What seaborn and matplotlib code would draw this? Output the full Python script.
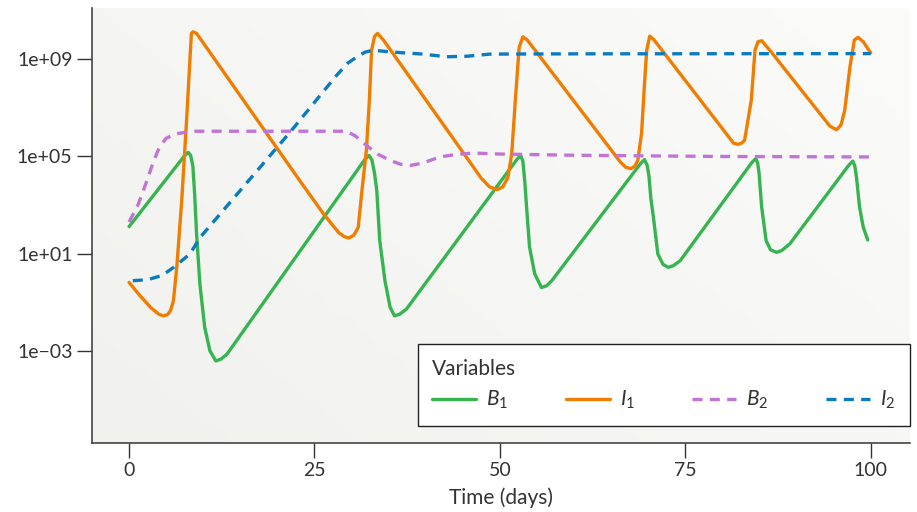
import numpy as np
import pandas as pd
import matplotlib
matplotlib.use('Agg')
import matplotlib.pyplot as plt
from matplotlib.colors import LinearSegmentedColormap
import seaborn as sns

# Values: time (days) and log10 of the population size
b1_t = [0, 7.4, 7.95, 8.3, 8.6, 8.85, 9.1, 9.55, 10.2, 10.9, 11.7, 12.4, 13.2,
        31.8, 32.35, 32.75, 33.1, 33.4, 33.8, 34.5, 35.2, 35.8, 36.5, 37.4,
        52.3, 52.8, 53.1, 53.35, 53.6, 54.0, 54.7, 55.6, 56.3, 57.0,
        69.0, 69.5, 69.85, 70.1, 70.35, 70.7, 71.3, 72.0, 72.7, 73.4, 74.3,
        84.0, 84.5, 84.75, 84.95, 85.3, 85.9, 86.5, 87.3, 88.0, 89.1,
        97.1, 97.6, 97.85, 98.1, 98.5, 99.0, 99.6]
b1_log = [2.11, 5.0, 5.17, 5.05, 4.6, 3.4, 1.81, -0.26, -2.05, -3.01, -3.43, -3.35, -3.15,
          4.88, 5.04, 4.85, 4.3, 3.6, 1.53, -0.12, -1.22, -1.57, -1.5, -1.29,
          4.88, 5.04, 4.8, 4.0, 2.91, 1.26, 0.16, -0.40, -0.33, -0.12,
          4.72, 4.87, 4.65, 4.2, 3.3, 2.5, 0.98, 0.55, 0.43, 0.5, 0.7,
          4.76, 4.91, 4.75, 4.3, 2.91, 1.53, 1.15, 1.05, 1.12, 1.4,
          4.66, 4.81, 4.62, 4.1, 2.91, 2.08, 1.56]

i1_t = [0, 1.5, 3.0, 4.0, 4.6, 5.2, 5.6, 5.98, 6.43, 7.1, 7.78, 8.2, 8.4, 8.63, 9.1, 9.57,
        23.0, 26.2, 28.3, 29.0, 29.6, 30.3, 30.9, 31.4, 32.0, 32.4, 32.7, 33.1, 33.5, 34.3,
        47.5, 48.6, 49.6, 50.4, 51.1, 51.6, 52.1, 52.6, 53.1, 53.7,
        66.3, 67.0, 67.7, 68.2, 68.6, 69.1, 69.5, 69.8, 70.2, 70.8,
        81.0, 81.5, 82.1, 82.6, 83.0, 83.9, 84.4, 84.8, 85.3, 86.4,
        94.5, 95.4, 96.0, 96.5, 97.2, 97.8, 98.3, 99.0, 100.0]
i1_log = [-0.19, -0.75, -1.25, -1.5, -1.57, -1.52, -1.35, -0.94, 0.43, 3.19, 6.63, 8.97, 10.07, 10.14, 10.07, 9.87,
          4.01, 2.64, 1.85, 1.7, 1.64, 1.75, 2.08, 3.6, 5.25, 7.32, 9.38, 9.95, 10.07, 9.8,
          4.1, 3.75, 3.63, 3.75, 4.15, 5.12, 7.4, 9.5, 9.93, 9.8,
          4.75, 4.55, 4.5, 4.6, 4.84, 5.94, 8.0, 9.38, 9.96, 9.8,
          5.75, 5.55, 5.5, 5.55, 5.67, 7.32, 9.38, 9.73, 9.77, 9.38,
          6.25, 6.1, 6.3, 6.9, 8.69, 9.8, 9.91, 9.73, 9.27]

b2_t = [0, 1.2, 2.4, 3.3, 4.1, 5.0, 6.4, 8.7, 29.3, 30.5, 32.0, 33.5, 35.2, 36.6, 37.9,
        39.5, 41.9, 44.0, 46.4, 50.0, 60.0, 80.0, 100.0]
b2_log = [2.3, 3.0, 4.0, 4.8, 5.39, 5.75, 5.94, 6.04, 6.04, 5.85, 5.46, 5.1, 4.84, 4.68, 4.63,
          4.72, 4.98, 5.08, 5.14, 5.1, 5.05, 5.0, 4.98]

i2_t = [0.5, 2.5, 4.5, 6.0, 8.2, 9.6, 21.7, 28.0, 29.5, 30.7, 31.8, 32.9, 35.2, 39.6,
        42.8, 45.5, 48.7, 60.0, 100.0]
i2_log = [-0.12, -0.08, 0.1, 0.43, 0.98, 1.67, 6.0, 8.35, 8.85, 9.1, 9.3, 9.38, 9.31, 9.22,
          9.11, 9.13, 9.22, 9.23, 9.24]

names = [r'$B_1$', r'$I_1$', r'$B_2$', r'$I_2$']
colors = ['#35b44f', '#f07d00', '#c274d6', '#0b7bbf']

frames = []
for name, t, lg in zip(names, [b1_t, i1_t, b2_t, i2_t], [b1_log, i1_log, b2_log, i2_log]):
    frames.append(pd.DataFrame({'time': t, 'value': 10.0 ** np.array(lg), 'variable': name}))
df = pd.concat(frames, ignore_index=True)

sns.set_style('ticks')
plt.rcParams['font.family'] = ['Lato', 'DejaVu Sans']
plt.rcParams['mathtext.fontset'] = 'custom'
plt.rcParams['mathtext.rm'] = 'Lato'
plt.rcParams['mathtext.it'] = 'Lato:italic'

fig = plt.figure(figsize=(9.17, 5.12), dpi=100)
pos = [92 / 917, 1 - 443 / 512, (910 - 92) / 917, (443 - 8) / 512]

# soft grey panel, a little darker at the lower left
bg = fig.add_axes(pos, zorder=0)
gx, gy = np.meshgrid(np.linspace(0, 1, 200), np.linspace(0, 1, 100))
grad = 0.6 * gx + 0.4 * gy
cmap = LinearSegmentedColormap.from_list('panel', ['#f1f1ee', '#fbfbfa'])
bg.imshow(grad, cmap=cmap, aspect='auto', extent=[0, 1, 0, 1], origin='lower')
bg.axis('off')

ax = fig.add_axes(pos, zorder=1)
ax.set_facecolor('none')

sns.lineplot(data=df, x='time', y='value', hue='variable', style='variable',
             palette=dict(zip(names, colors)),
             dashes={names[0]: '', names[1]: '', names[2]: (3, 2.2), names[3]: (3, 2.2)},
             estimator=None, sort=False, linewidth=2.4, ax=ax)

ax.set_yscale('log')
ax.set_xlim(-5, 105.3)
ax.set_ylim(10 ** -6.81, 10 ** 11.12)
ax.set_xticks([0, 25, 50, 75, 100])
ax.set_yticks([1e-3, 1e1, 1e5, 1e9])
ax.set_yticklabels(['1e\u221203', '1e+01', '1e+05', '1e+09'])
ax.minorticks_off()
ax.set_xlabel('Time (days)', fontsize=15, color='#333333', labelpad=6)
ax.set_ylabel('')

for side in ['top', 'right']:
    ax.spines[side].set_visible(False)
for side in ['left', 'bottom']:
    ax.spines[side].set_color('#444444')
    ax.spines[side].set_linewidth(1.2)
ax.tick_params(axis='both', direction='out', length=11, width=1.0, color='#333333',
               labelcolor='#333333', labelsize=14, pad=3)

handles, labels = ax.get_legend_handles_labels()
leg = ax.legend(handles, labels, title='Variables', loc='lower right',
                bbox_to_anchor=(1.0, 0.039), borderaxespad=0, ncol=4,
                fontsize=15, title_fontsize=15, frameon=True, fancybox=False,
                handlelength=2.1, columnspacing=2.75, handletextpad=0.5,
                borderpad=0.7, alignment='left')
leg.get_frame().set_edgecolor('#222222')
leg.get_frame().set_facecolor('white')
leg.get_frame().set_linewidth(1.0)
leg.get_frame().set_alpha(1)
leg.get_title().set_color('#333333')
for txt in leg.get_texts():
    txt.set_color('#333333')

fig.savefig('out.png', dpi=100)
